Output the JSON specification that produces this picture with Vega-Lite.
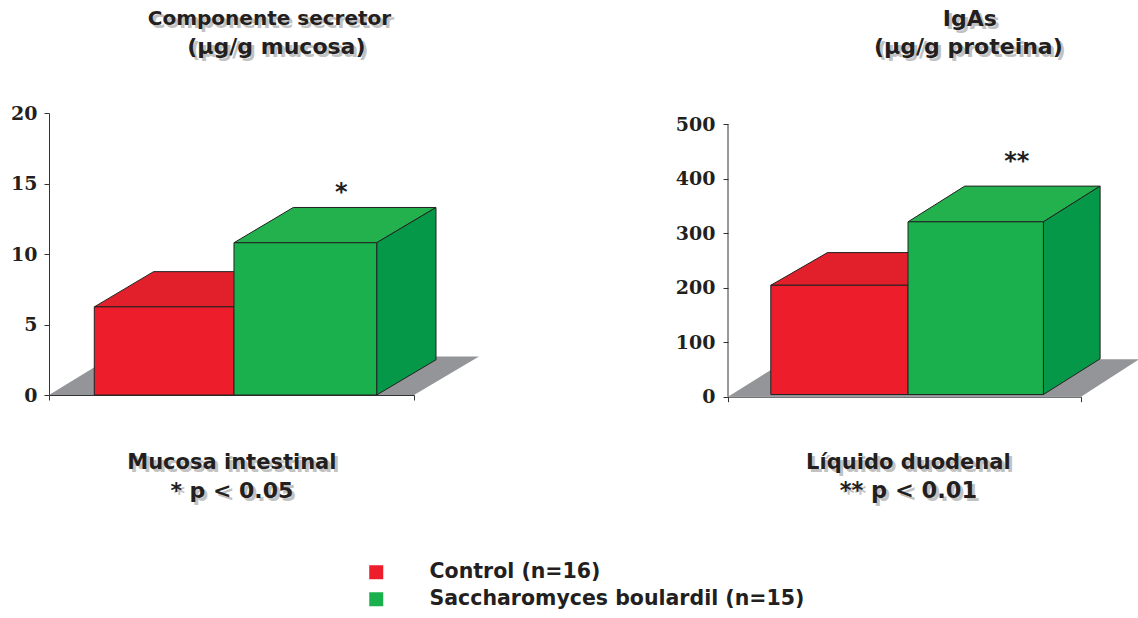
{
  "$schema": "https://vega.github.io/schema/vega-lite/v6.json",
  "background": "white",
  "padding": {"left": 10, "top": 7, "right": 0, "bottom": 0},
  "bounds": "flush",
  "spacing": 314,
  "config": {
    "view": {"stroke": null},
    "axis": {"grid": false, "domainColor": "#333333", "tickColor": "#333333", "tickSize": 5},
    "text": {"font": "DejaVu Sans", "fontWeight": "bold", "fill": "#231F20", "align": "center", "baseline": "middle"}
  },
  "hconcat": [
    {
      "width": 365,
      "height": 282,
      "data": {"values": [
        {"grupo": "Control (n=16)", "valor": 6.25},
        {"grupo": "Saccharomyces boulardil (n=15)", "valor": 10.8}
      ]},
      "transform": [
        {"calculate": "datum.valor < 8 ? 12.41 : 50.68", "as": "izq"},
        {"calculate": "datum.valor < 8 ? 50.68 : 89.78", "as": "der"},
        {"calculate": "[0, 1]", "as": "v"},
        {"flatten": ["v"]},
        {"calculate": "datum.izq + datum.v * 16.25", "as": "xa"},
        {"calculate": "datum.der + datum.v * 16.25", "as": "xb"},
        {"calculate": "datum.valor + datum.v * 2.5", "as": "tope"},
        {"calculate": "datum.v * 2.5", "as": "base"}
      ],
      "layer": [
        {
          "data": {"values": [{"v": 0}, {"v": 1}]},
          "transform": [
            {"calculate": "datum.v * 17.26", "as": "xa"},
            {"calculate": "100 + datum.v * 17.8", "as": "xb"},
            {"calculate": "datum.v * 2.73", "as": "yv"}
          ],
          "mark": {"type": "area", "orient": "horizontal", "fill": "#939598"},
          "encoding": {
            "x": {"field": "xa", "type": "quantitative", "stack": null, "scale": {"domain": [0, 100], "nice": false},
              "axis": {"values": [0, 100], "labels": false, "title": null}},
            "x2": {"field": "xb"},
            "y": {"field": "yv", "type": "quantitative", "scale": {"domain": [0, 20], "nice": false},
              "axis": {"values": [0, 5, 10, 15, 20], "title": null, "labelFont": "DejaVu Serif", "labelFontWeight": "bold", "labelFontSize": 19, "labelColor": "#231F20", "labelPadding": 7}}
          }
        },
        {
          "mark": {"type": "area", "orient": "horizontal", "stroke": "#222222", "strokeWidth": 1},
          "encoding": {
            "x": {"field": "xa", "type": "quantitative", "stack": null},
            "x2": {"field": "xb"},
            "y": {"field": "tope", "type": "quantitative"},
            "color": {"field": "grupo", "type": "nominal", "legend": null, "scale": {"range": ["#E1202B", "#22B14D"]}}
          }
        },
        {
          "transform": [{"filter": "datum.valor > 8"}, {"calculate": "datum.der + datum.v * 16.25", "as": "xl"}],
          "mark": {"type": "area", "fill": "#059849", "stroke": "#222222", "strokeWidth": 1},
          "encoding": {
            "x": {"field": "xl", "type": "quantitative", "stack": null},
            "y": {"field": "tope", "type": "quantitative"},
            "y2": {"field": "base"}
          }
        },
        {
          "transform": [{"filter": "datum.v === 0"}],
          "mark": {"type": "rect", "stroke": "#222222", "strokeWidth": 1},
          "encoding": {
            "x": {"field": "izq", "type": "quantitative"},
            "x2": {"field": "der"},
            "y": {"field": "valor", "type": "quantitative"},
            "y2": {"datum": 0},
            "color": {
              "field": "grupo", "type": "nominal",
              "scale": {"range": ["#EE1D2B", "#1BB04E"]},
              "legend": {
                "title": null, "orient": "none", "legendX": 317, "legendY": 449,
                "symbolType": "square", "symbolSize": 196, "symbolStrokeWidth": 0,
                "labelFont": "DejaVu Sans", "labelFontWeight": "bold", "labelFontSize": 20.5, "labelColor": "#231F20",
                "labelOffset": 43, "labelLimit": 500, "rowPadding": 6
              }
            }
          }
        },
        {
          "data": {"values": [{"nota": "*"}]},
          "transform": [],
          "mark": {"type": "text", "fontSize": 24},
          "encoding": {"x": {"datum": 80.1}, "y": {"datum": 14.35}, "text": {"field": "nota"}}
        },
        {
          "data": {"values": [{"titulo": "Componente secretor"}]},
          "transform": [],
          "layer": [
            {"mark": {"type": "text", "fontSize": 20, "dx": 3, "dy": 3, "fill": "#C2C2C2"}},
            {"mark": {"type": "text", "fontSize": 20}}
          ],
          "encoding": {"x": {"datum": 60.4}, "y": {"datum": 26.67}, "text": {"field": "titulo"}}
        },
        {
          "data": {"values": [{"titulo": "(µg/g mucosa)"}]},
          "transform": [],
          "layer": [
            {"mark": {"type": "text", "fontSize": 22, "dx": 3, "dy": 3, "fill": "#C2C2C2"}},
            {"mark": {"type": "text", "fontSize": 22}}
          ],
          "encoding": {"x": {"datum": 62.3}, "y": {"datum": 24.68}, "text": {"field": "titulo"}}
        },
        {
          "data": {"values": [{"pie": "Mucosa intestinal"}]},
          "transform": [],
          "layer": [
            {"mark": {"type": "text", "fontSize": 21, "dx": 3, "dy": 3, "fill": "#C2C2C2"}},
            {"mark": {"type": "text", "fontSize": 21}}
          ],
          "encoding": {"x": {"datum": 50.1}, "y": {"datum": -4.82}, "text": {"field": "pie"}}
        },
        {
          "data": {"values": [{"pie": "* p < 0.05"}]},
          "transform": [],
          "layer": [
            {"mark": {"type": "text", "fontSize": 22, "dx": 3, "dy": 3, "fill": "#C2C2C2"}},
            {"mark": {"type": "text", "fontSize": 22}}
          ],
          "encoding": {"x": {"datum": 50.1}, "y": {"datum": -6.8}, "text": {"field": "pie"}}
        }
      ],
      "resolve": {"scale": {"color": "independent"}}
    },
    {
      "width": 353,
      "height": 283.7,
      "data": {"values": [
        {"grupo": "Control (n=16)", "valor": 204.5},
        {"grupo": "Saccharomyces boulardil (n=15)", "valor": 321}
      ]},
      "transform": [
        {"calculate": "datum.valor < 260 ? 12.12 : 51.0", "as": "izq"},
        {"calculate": "datum.valor < 260 ? 51.0 : 89.35", "as": "der"},
        {"calculate": "[0, 1]", "as": "v"},
        {"flatten": ["v"]},
        {"calculate": "datum.izq + datum.v * 16.06", "as": "xa"},
        {"calculate": "datum.der + datum.v * 16.06", "as": "xb"},
        {"calculate": "datum.valor + datum.v * (datum.valor < 260 ? 60 : 65.5)", "as": "tope"},
        {"calculate": "4 + datum.v * 65.5", "as": "base"}
      ],
      "layer": [
        {
          "data": {"values": [{"v": 0}, {"v": 1}]},
          "transform": [
            {"calculate": "datum.v * 17.0", "as": "xa"},
            {"calculate": "100 + datum.v * 16.4", "as": "xb"},
            {"calculate": "datum.v * 68.6", "as": "yv"}
          ],
          "mark": {"type": "area", "orient": "horizontal", "fill": "#939598"},
          "encoding": {
            "x": {"field": "xa", "type": "quantitative", "stack": null, "scale": {"domain": [0, 100], "nice": false},
              "axis": {"values": [0, 100], "labels": false, "title": null}},
            "x2": {"field": "xb"},
            "y": {"field": "yv", "type": "quantitative", "scale": {"domain": [0, 520.7], "nice": false},
              "axis": {"values": [0, 100, 200, 300, 400, 500], "title": null, "domain": false, "labelFont": "DejaVu Serif", "labelFontWeight": "bold", "labelFontSize": 19, "labelColor": "#231F20", "labelPadding": 8}}
          }
        },
        {
          "data": {"values": [{"eje": 0}]},
          "transform": [],
          "mark": {"type": "rule", "color": "#333333"},
          "encoding": {"x": {"datum": 0}, "y": {"datum": 0}, "y2": {"datum": 500}}
        },
        {
          "mark": {"type": "area", "orient": "horizontal", "stroke": "#222222", "strokeWidth": 1},
          "encoding": {
            "x": {"field": "xa", "type": "quantitative", "stack": null},
            "x2": {"field": "xb"},
            "y": {"field": "tope", "type": "quantitative"},
            "color": {"field": "grupo", "type": "nominal", "legend": null, "scale": {"range": ["#E1202B", "#22B14D"]}}
          }
        },
        {
          "transform": [{"filter": "datum.valor > 260"}, {"calculate": "datum.der + datum.v * 16.06", "as": "xl"}],
          "mark": {"type": "area", "fill": "#059849", "stroke": "#222222", "strokeWidth": 1},
          "encoding": {
            "x": {"field": "xl", "type": "quantitative", "stack": null},
            "y": {"field": "tope", "type": "quantitative"},
            "y2": {"field": "base"}
          }
        },
        {
          "transform": [{"filter": "datum.v === 0"}],
          "mark": {"type": "rect", "stroke": "#222222", "strokeWidth": 1},
          "encoding": {
            "x": {"field": "izq", "type": "quantitative"},
            "x2": {"field": "der"},
            "y": {"field": "valor", "type": "quantitative"},
            "y2": {"datum": 4},
            "color": {"field": "grupo", "type": "nominal", "legend": null, "scale": {"range": ["#EE1D2B", "#1BB04E"]}}
          }
        },
        {
          "data": {"values": [{"nota": "**"}]},
          "transform": [],
          "mark": {"type": "text", "fontSize": 24},
          "encoding": {"x": {"datum": 81.8}, "y": {"datum": 430}, "text": {"field": "nota"}}
        },
        {
          "data": {"values": [{"titulo": "IgAs"}]},
          "transform": [],
          "layer": [
            {"mark": {"type": "text", "fontSize": 22, "dx": 3, "dy": 3, "fill": "#C2C2C2"}},
            {"mark": {"type": "text", "fontSize": 22}}
          ],
          "encoding": {"x": {"datum": 68.5}, "y": {"datum": 693.3}, "text": {"field": "titulo"}}
        },
        {
          "data": {"values": [{"titulo": "(µg/g proteina)"}]},
          "transform": [],
          "layer": [
            {"mark": {"type": "text", "fontSize": 22, "dx": 3, "dy": 3, "fill": "#C2C2C2"}},
            {"mark": {"type": "text", "fontSize": 22}}
          ],
          "encoding": {"x": {"datum": 68.1}, "y": {"datum": 642}, "text": {"field": "titulo"}}
        },
        {
          "data": {"values": [{"pie": "Líquido duodenal"}]},
          "transform": [],
          "layer": [
            {"mark": {"type": "text", "fontSize": 21, "dx": 3, "dy": 3, "fill": "#C2C2C2"}},
            {"mark": {"type": "text", "fontSize": 21}}
          ],
          "encoding": {"x": {"datum": 51.1}, "y": {"datum": -121.7}, "text": {"field": "pie"}}
        },
        {
          "data": {"values": [{"pie": "** p < 0.01"}]},
          "transform": [],
          "layer": [
            {"mark": {"type": "text", "fontSize": 22.5, "dx": 3, "dy": 3, "fill": "#C2C2C2"}},
            {"mark": {"type": "text", "fontSize": 22.5}}
          ],
          "encoding": {"x": {"datum": 51.1}, "y": {"datum": -173}, "text": {"field": "pie"}}
        }
      ],
      "resolve": {"scale": {"color": "independent"}}
    }
  ]
}
